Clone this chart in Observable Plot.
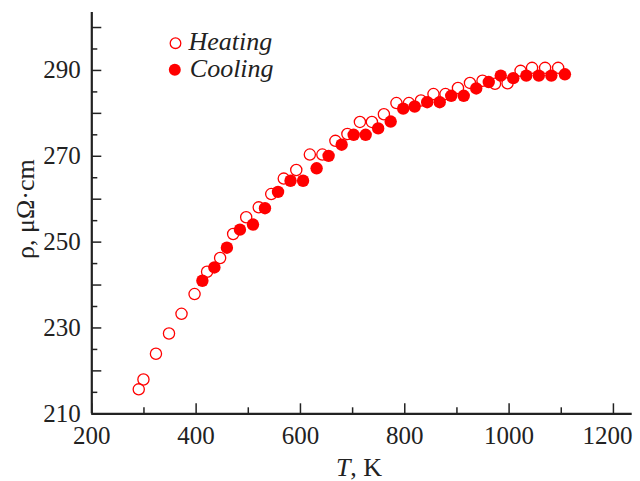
<!DOCTYPE html>
<html>
<head>
<meta charset="utf-8">
<script src="https://cdn.jsdelivr.net/npm/d3@7"></script>
<script src="https://cdn.jsdelivr.net/npm/@observablehq/plot@0.6"></script>
<style>
  body { margin: 0; background: #fff; }
  #chart svg { display: block; }
</style>
</head>
<body>
<div id="chart"></div>
<script>
// ---- data ----
const heatingT   = [290, 299, 323, 348, 372, 397, 421, 446, 471, 496, 520, 544, 568, 592, 618, 642, 667, 690, 714, 737, 760, 784, 808, 831, 855, 878, 902, 925, 949, 973, 997, 1022, 1044, 1069, 1094];
const heatingRho = [215.7, 218.0, 224.0, 228.7, 233.3, 237.9, 243.1, 246.3, 251.9, 255.8, 258.1, 261.2, 264.8, 266.8, 270.4, 270.4, 273.6, 275.2, 278.0, 278.0, 279.8, 282.4, 282.4, 283.0, 284.5, 284.5, 285.9, 287.1, 287.6, 286.9, 287.0, 289.9, 290.6, 290.6, 290.6];
const coolingT   = [412, 435, 459, 484, 509, 532, 557, 581, 605, 631, 654, 679, 702, 725, 749, 773, 797, 819, 843, 867, 889, 913, 937, 961, 984, 1008, 1033, 1057, 1081, 1107];
const coolingRho = [241.0, 244.1, 248.7, 252.9, 254.1, 257.9, 261.7, 264.3, 264.3, 267.2, 270.1, 272.7, 275.0, 275.0, 276.5, 278.1, 281.1, 281.6, 282.6, 282.6, 284.1, 284.1, 285.8, 287.3, 288.8, 288.2, 288.8, 288.8, 288.8, 289.1];

const seriesNames = ["Heating", "Cooling"];
const xDomain = [200, 1236];
const yDomain = [210, 303.5];
const xMajorTicks = [200, 400, 600, 800, 1000, 1200];
const xMinorTicks = [300, 500, 700, 900, 1100];
const xTickLabels = [200, 400, 600, 800, 1000];
const xLastTickLabel = [1200];
const yMajorTicks = [210, 220, 230, 240, 250, 260, 270, 280, 290, 300];
const yMinorTicks = [215, 225, 235, 245, 255, 265, 275, 285, 295];
const yTickLabels = [210, 230, 250, 270, 290];
const xLabelItalic = "T";
const xLabelRest = ", K";
const yLabel = "ρ, μΩ·cm";

// ---- tables ----
const heating = heatingT.map((T, i) => ({T, rho: heatingRho[i]}));
const cooling = coolingT.map((T, i) => ({T, rho: coolingRho[i]}));

const red = "#ff0000";
const ink = "#222222";
const serif = "'Liberation Serif', 'Times New Roman', serif";
const plain = d => String(d);

const chart = Plot.plot({
  width: 640,
  height: 481,
  marginLeft: 91.3,
  marginRight: 8.3,
  marginTop: 12,
  marginBottom: 67.7,
  x: {domain: xDomain},
  y: {domain: yDomain},
  style: {fontFamily: serif, fontSize: "25px", color: ink, background: "#fff"},
  marks: [
    // ticks (inward)
    Plot.axisX(xMajorTicks, {tickSize: -10, tickFormat: () => "", label: null, stroke: ink, strokeWidth: 1.5}),
    Plot.axisX(xMinorTicks, {tickSize: -6, tickFormat: () => "", label: null, stroke: ink, strokeWidth: 1.5}),
    Plot.axisY(yMajorTicks, {tickSize: -10, tickFormat: () => "", label: null, stroke: ink, strokeWidth: 1.5}),
    Plot.axisY(yMinorTicks, {tickSize: -6, tickFormat: () => "", label: null, stroke: ink, strokeWidth: 1.5}),
    // tick labels
    Plot.axisX(xTickLabels, {tickSize: 0, tickPadding: 12, tickFormat: plain, label: null, fill: ink, fontSize: 25}),
    Plot.axisX(xLastTickLabel, {tickSize: 0, tickPadding: 12, tickFormat: plain, label: null, fill: ink, fontSize: 25, dx: -6}),
    Plot.axisY(yTickLabels, {tickSize: 0, tickPadding: 11, tickFormat: plain, label: null, fill: ink, fontSize: 25}),
    // axis lines
    Plot.ruleX([xDomain[0]], {stroke: ink, strokeWidth: 2.2}),
    Plot.ruleY([yDomain[0]], {stroke: ink, strokeWidth: 2.2}),
    // data
    Plot.dot(heating, {x: "T", y: "rho", r: 5.6, stroke: red, strokeWidth: 1.3, fill: "none"}),
    Plot.dot(cooling, {x: "T", y: "rho", r: 6.2, fill: red, stroke: "none"}),
    // legend
    Plot.dot([seriesNames[0]], {frameAnchor: "top-left", dx: 83.7, dy: 30.7, r: 5.3, stroke: red, strokeWidth: 1.3, fill: "none"}),
    Plot.dot([seriesNames[1]], {frameAnchor: "top-left", dx: 83, dy: 57.3, r: 6, fill: red, stroke: "none"}),
    Plot.text([seriesNames[0]], {frameAnchor: "top-left", text: d => d, dx: 96.7, dy: 37.3, textAnchor: "start", lineAnchor: "bottom", fontStyle: "italic", fontSize: 26, fill: ink}),
    Plot.text([seriesNames[1]], {frameAnchor: "top-left", text: d => d, dx: 98, dy: 64, textAnchor: "start", lineAnchor: "bottom", fontStyle: "italic", fontSize: 26, fill: ink}),
    // axis titles
    Plot.text([yLabel], {frameAnchor: "left", text: d => d, dx: -66.3, dy: -4, rotate: -90, textAnchor: "middle", lineAnchor: "middle", fontSize: 26, fill: ink}),
    Plot.text([xLabelItalic + xLabelRest], {frameAnchor: "bottom", text: d => d, dx: -3, dy: 62, textAnchor: "middle", lineAnchor: "bottom", fontSize: 26, fill: ink})
  ]
});

// italic T in the x-axis title
d3.select(chart).selectAll("text")
  .filter(function () { return this.textContent === xLabelItalic + xLabelRest; })
  .each(function () {
    const t = d3.select(this);
    t.text(null);
    t.append("tspan").attr("font-style", "italic").text(xLabelItalic);
    t.append("tspan").text(xLabelRest);
  });

document.getElementById("chart").append(chart);
</script>
</body>
</html>
